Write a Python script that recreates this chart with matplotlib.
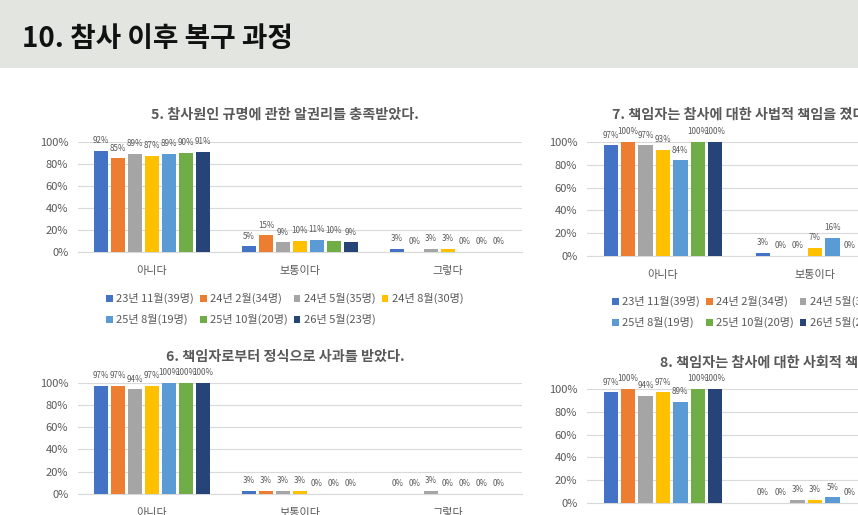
import numpy as np
import matplotlib
matplotlib.use('Agg')
import matplotlib.pyplot as plt
from matplotlib.patches import Rectangle

plt.rcParams['font.family'] = ['Noto Sans CJK KR', 'DejaVu Sans']

categories = ['아니다', '보통이다', '그렇다']
waves = ['23년 11월(39명)', '24년 2월(34명)', '24년 5월(35명)', '24년 8월(30명)',
         '25년 8월(19명)', '25년 10월(20명)', '26년 5월(23명)']
colors = ['#4472C4', '#ED7D31', '#A5A5A5', '#FFC000', '#5B9BD5', '#70AD47', '#264478']

# percent per wave, one list per answer category
q5 = [[92, 85, 89, 87, 89, 90, 91],
      [5, 15, 9, 10, 11, 10, 9],
      [3, 0, 3, 3, 0, 0, 0]]
q6 = [[97, 97, 94, 97, 100, 100, 100],
      [3, 3, 3, 3, 0, 0, 0],
      [0, 0, 3, 0, 0, 0, 0]]
q7 = [[97, 100, 97, 93, 84, 100, 100],
      [3, 0, 0, 7, 16, 0, 0],
      [0, 0, 3, 0, 0, 0, 0]]
q8 = [[97, 100, 94, 97, 89, 100, 100],
      [0, 0, 3, 3, 5, 0, 0],
      [3, 0, 3, 0, 6, 0, 0]]

title5 = '5. 참사원인 규명에 관한 알권리를 충족받았다.'
title6 = '6. 책임자로부터 정식으로 사과를 받았다.'
title7 = '7. 책임자는 참사에 대한 사법적 책임을 졌다.'
title8 = '8. 책임자는 참사에 대한 사회적 책임을 졌다.'

W, H = 858, 515
TXT = '#595959'
GRID = '#D9D9D9'

fig = plt.figure(figsize=(W / 100, H / 100), dpi=100)
fig.patch.set_facecolor('white')

# header band
fig.patches.append(Rectangle((0, 1 - 68 / H), 1, 68 / H, transform=fig.transFigure,
                             facecolor='#E2E5E0', edgecolor='none', zorder=0))
fig.text(22 / W, 1 - 39 / H, '10. 참사 이후 복구 과정', fontsize=20, fontweight='bold',
         color='#111111', ha='left', va='center')


def px_box(left, top, right, bottom):
    return [left / W, 1 - bottom / H, (right - left) / W, (bottom - top) / H]


def draw_chart(box, data):
    ax = fig.add_axes(box)
    x = np.arange(len(categories))
    pitch = 0.80 / len(waves)
    bars = []
    for i, (lab, col) in enumerate(zip(waves, colors)):
        vals = [data[c][i] for c in range(len(categories))]
        b = ax.bar(x - 0.40 + pitch * (i + 0.5), vals, width=pitch * 0.83,
                   color=col, label=lab, zorder=3)
        ax.bar_label(b, labels=[f'{v}%' for v in vals], padding=4, fontsize=5.8,
                     color=TXT, clip_on=False)
        bars.append(b)
    ax.set_xlim(-0.5, len(categories) - 0.5)
    ax.set_ylim(0, 100)
    ax.set_yticks(np.arange(0, 101, 20))
    ax.set_yticklabels([f'{v}%' for v in range(0, 101, 20)])
    ax.set_xticks(x)
    ax.set_xticklabels(categories)
    ax.tick_params(axis='y', length=0, pad=7, labelsize=8, labelcolor=TXT)
    ax.tick_params(axis='x', length=0, pad=10, labelsize=8, labelcolor=TXT)
    ax.grid(axis='y', color=GRID, lw=0.8, zorder=0)
    for s in ['top', 'left', 'right']:
        ax.spines[s].set_visible(False)
    ax.spines['bottom'].set_color(GRID)
    ax.set_facecolor('none')
    return ax, bars


def add_legend(bars, x0, y0):
    # row-major order for a 4-column grid
    order = [0, 4, 1, 5, 2, 6, 3]
    fig.legend([bars[i] for i in order], [waves[i] for i in order],
               loc='upper left', bbox_to_anchor=(x0 / W, 1 - y0 / H), ncol=4,
               frameon=False, fontsize=8, labelcolor=TXT, handlelength=0.6,
               handleheight=0.6, handletextpad=0.3, columnspacing=0.55,
               labelspacing=0.9, borderpad=0, borderaxespad=0)


ax5, b5 = draw_chart(px_box(78, 141.7, 522, 252), q5)
fig.text(285 / W, 1 - 115 / H, title5, fontsize=10.2, fontweight='bold', color=TXT,
         ha='center', va='center')
add_legend(b5, 106, 293)

ax6, b6 = draw_chart(px_box(78, 382.7, 522, 494), q6)
fig.text(285 / W, 1 - 357 / H, title6, fontsize=10.2, fontweight='bold', color=TXT,
         ha='center', va='center')

ax7, b7 = draw_chart(px_box(587, 142, 1043, 256), q7)
fig.text(612 / W, 1 - 115 / H, title7, fontsize=10.2, fontweight='bold', color=TXT,
         ha='left', va='center')
add_legend(b7, 612, 296)

ax8, b8 = draw_chart(px_box(587, 389, 1043, 503), q8)
fig.text(660 / W, 1 - 363 / H, title8, fontsize=10.2, fontweight='bold', color=TXT,
         ha='left', va='center')

fig.savefig('out.png', dpi=100)
